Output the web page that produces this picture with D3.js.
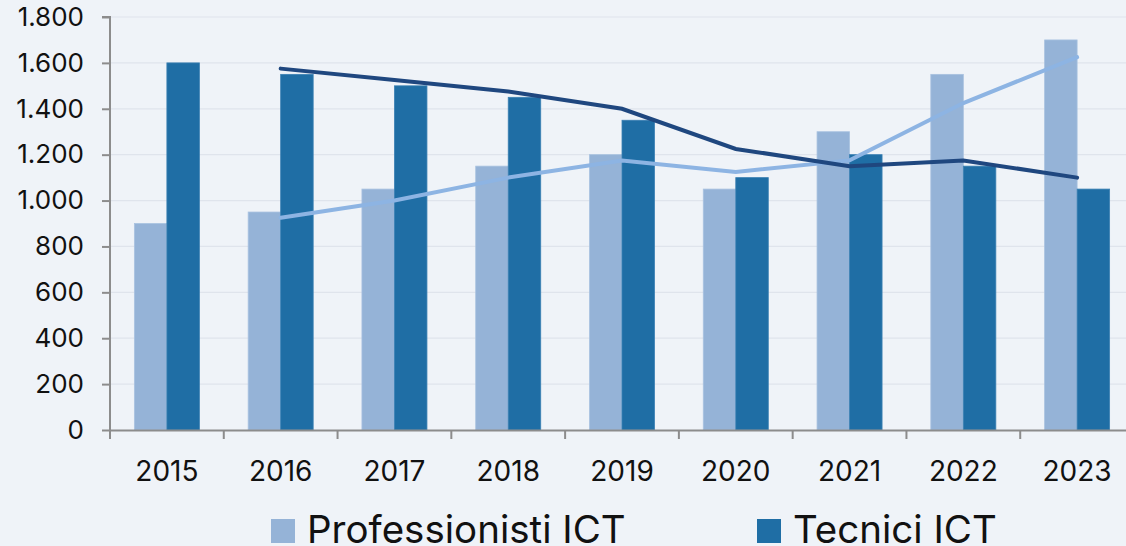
<!DOCTYPE html>
<html>
<head>
<meta charset="utf-8">
<script src="https://cdn.jsdelivr.net/npm/d3@7"></script>
<style>
  body { margin: 0; background: #eff3f8; }
  svg { display: block; font-family: Inter, "Open Sans", sans-serif; }
</style>
</head>
<body>
<div id="chart"></div>
<script>
// data
var years = ["2015", "2016", "2017", "2018", "2019", "2020", "2021", "2022", "2023"];
var professionisti = [900, 950, 1050, 1150, 1200, 1050, 1300, 1550, 1700];
var tecnici = [1600, 1550, 1500, 1450, 1350, 1100, 1200, 1150, 1050];
// moving-average lines (start at 2016)
var mediaProf = [null, 925, 1000, 1100, 1175, 1125, 1175, 1425, 1625];
var mediaTec = [null, 1575, 1525, 1475, 1400, 1225, 1150, 1175, 1100];
var seriesNames = ["Professionisti ICT", "Tecnici ICT"];
var yTicks = [0, 200, 400, 600, 800, 1000, 1200, 1400, 1600, 1800];

var colors = { prof: "#95b3d7", tec: "#1f6ea5", profLine: "#8db4e3", tecLine: "#1f477f" };

var W = 1126, H = 546;
var margin = {top: 17, right: -8, bottom: 116, left: 110},
    width = W - margin.left - margin.right,
    height = H - margin.top - margin.bottom;

var it = d3.formatLocale({decimal: ",", thousands: ".", grouping: [3], currency: ["€", ""]});
var fmt = it.format(",d");

var svg = d3.select("#chart")
  .append("svg")
    .attr("width", W)
    .attr("height", H);

svg.append("rect")
  .attr("width", W).attr("height", H)
  .attr("fill", "#eff3f8");

var g = svg.append("g")
  .attr("transform", "translate(" + margin.left + "," + margin.top + ")");

var x = d3.scaleBand()
  .domain(years)
  .range([0, width])
  .padding(0);

var xSub = d3.scaleBand()
  .domain(["prof", "tec"])
  .range([0, x.bandwidth()])
  .paddingInner(0)
  .paddingOuter(0.75);

var y = d3.scaleLinear()
  .domain([0, 1800])
  .range([height, 0]);

// gridlines
g.append("g")
  .selectAll("line")
  .data(yTicks.slice(1))
  .enter().append("line")
    .attr("x1", 0).attr("x2", width)
    .attr("y1", function(d) { return y(d); })
    .attr("y2", function(d) { return y(d); })
    .attr("stroke", "#dfe4ec")
    .attr("stroke-width", 1.2);

// bars
var groups = g.append("g")
  .selectAll("g")
  .data(years)
  .enter().append("g")
    .attr("transform", function(d) { return "translate(" + x(d) + ",0)"; });

groups.append("rect")
  .attr("x", xSub("prof"))
  .attr("width", xSub.bandwidth())
  .attr("y", function(d, i) { return y(professionisti[i]); })
  .attr("height", function(d, i) { return height - y(professionisti[i]); })
  .attr("fill", colors.prof)
  .attr("stroke", "#a9c2e0").attr("stroke-width", 0.8);

groups.append("rect")
  .attr("x", xSub("tec"))
  .attr("width", xSub.bandwidth())
  .attr("y", function(d, i) { return y(tecnici[i]); })
  .attr("height", function(d, i) { return height - y(tecnici[i]); })
  .attr("fill", colors.tec)
  .attr("stroke", "#3b80b3").attr("stroke-width", 0.8);

// y axis
var yAxis = g.append("g")
  .call(d3.axisLeft(y).tickValues(yTicks).tickFormat(fmt).tickSize(8).tickPadding(18));
yAxis.selectAll("path, line").attr("stroke", "#8c8c8c").attr("stroke-width", 2);
yAxis.select(".domain").attr("d", "M-8," + y(1800) + "H0V" + height);
yAxis.selectAll("text")
  .style("font-family", "Inter, sans-serif")
  .style("font-size", "26px")
  .attr("fill", "#111");

// x axis
var xAxis = g.append("g")
  .attr("transform", "translate(0," + height + ")")
  .call(d3.axisBottom(x).tickSize(0).tickPadding(31));
xAxis.select(".domain").attr("stroke", "#8c8c8c").attr("stroke-width", 2);
xAxis.selectAll("text")
  .style("font-family", "Inter, sans-serif")
  .style("font-size", "28px")
  .attr("fill", "#111");

// ticks between categories
xAxis.append("g")
  .selectAll("line")
  .data(years.concat(["end"]))
  .enter().append("line")
    .attr("x1", function(d) { return d === "end" ? width : x(d); })
    .attr("x2", function(d) { return d === "end" ? width : x(d); })
    .attr("y1", 0).attr("y2", 9)
    .attr("stroke", "#8c8c8c")
    .attr("stroke-width", 2);

// moving average lines
var line = d3.line()
  .defined(function(d) { return d.v != null; })
  .x(function(d) { return x(d.year) + x.bandwidth() / 2; })
  .y(function(d) { return y(d.v); });

g.append("path")
  .datum(years.map(function(d, i) { return {year: d, v: mediaProf[i]}; }))
  .attr("d", line)
  .attr("fill", "none")
  .attr("stroke", colors.profLine)
  .attr("stroke-width", 4)
  .attr("stroke-linecap", "round");

g.append("path")
  .datum(years.map(function(d, i) { return {year: d, v: mediaTec[i]}; }))
  .attr("d", line)
  .attr("fill", "none")
  .attr("stroke", colors.tecLine)
  .attr("stroke-width", 4)
  .attr("stroke-linecap", "round");

// legend
var legendX = [271, 757];
var legend = svg.append("g")
  .selectAll("g")
  .data(seriesNames)
  .enter().append("g")
    .attr("transform", function(d, i) { return "translate(" + legendX[i] + ",519)"; });

legend.append("rect")
  .attr("width", 24).attr("height", 24)
  .attr("fill", function(d, i) { return i === 0 ? colors.prof : colors.tec; });

legend.append("text")
  .attr("x", 36)
  .attr("y", 24)
  .style("font-family", "Inter, sans-serif")
  .style("font-size", "38.5px")
  .attr("fill", "#111")
  .text(function(d) { return d; });
</script>
</body>
</html>
